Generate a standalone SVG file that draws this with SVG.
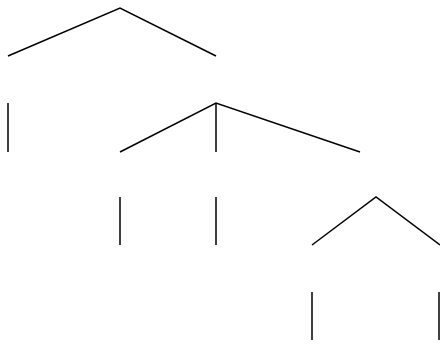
<svg xmlns="http://www.w3.org/2000/svg" width="440" height="347" viewBox="0 0 440 347">
<style>
.c{stroke:#000;stroke-width:1.5;fill:none;stroke-linecap:butt}
</style>
<rect width="440" height="347" fill="#fff"/>
<g id="connectors">
<path class="c" d="M8,56 L120,8 L216,56"/>
<path class="c" d="M8,103 L8,152"/>
<path class="c" d="M120,152 L216,103 L360,152"/>
<path class="c" d="M216,103 L216,152"/>
<path class="c" d="M120,197 L120,245"/>
<path class="c" d="M216,197 L216,245"/>
<path class="c" d="M312,245 L376,197 L440,245"/>
<path class="c" d="M312,292 L312,340"/>
<path class="c" d="M439,292 L439,340"/>
</g>
</svg>
